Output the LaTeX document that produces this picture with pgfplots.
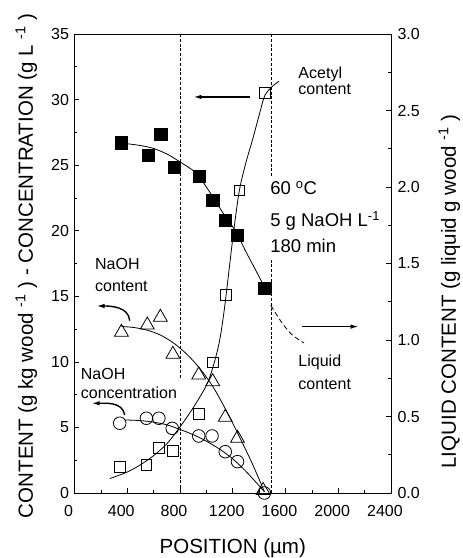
\documentclass[border=0pt]{standalone}
\usepackage{fontspec}
\setmainfont{Liberation Sans}
\usepackage{pgfplots}
\pgfplotsset{compat=1.18}
\usetikzlibrary{arrows.meta}

\tikzset{
  ann/.style={font=\fontsize{16}{19}\selectfont, inner sep=0pt, anchor=base west},
  cond/.style={font=\fontsize{18.5}{22}\selectfont, inner sep=0pt, anchor=base west},
  arr/.style={line width=1.4pt, -{Latex[length=8pt,width=4.5pt]}},
}

\begin{document}
\begin{tikzpicture}
\pgfplotsset{
  common/.style={
    scale only axis, width=316.5pt, height=459pt,
    xmin=0, xmax=2400,
    tick align=inside,
    major tick length=5pt, minor tick length=3pt,
    axis line style={line width=0.8pt},
    every tick/.style={black, line width=0.7pt},
    tick label style={font=\fontsize{16}{19}\selectfont},
    /pgf/number format/assume math mode=true,
    /pgf/number format/set thousands separator={},
    label style={font=\fontsize{20.5}{25}\selectfont},
  },
  fit/.style={black, line width=0.8pt, smooth, no marks},
  bound/.style={black, line width=0.9pt, dash pattern=on 3pt off 1.8pt},
}
% right axis: liquid content (filled squares)
\begin{axis}[common,
  ymin=0, ymax=3,
  axis x line=none, axis y line*=right,
  ytick={0,0.5,...,3}, minor y tick num=1,
  yticklabel style={xshift=3pt, /pgf/number format/.cd, fixed, fixed zerofill, precision=1},
  ylabel={LIQUID CONTENT (g liquid g wood \textsuperscript{-1} )},
  ylabel style={at={(axis description cs:1.184,0.439)}, anchor=center, rotate=0},
]
\addplot[only marks, mark=square*, mark size=6.1pt, mark options={fill=black, draw=black}]
coordinates {
(356,2.290) (557,2.210) (653,2.345) (758,2.129) (947,2.073)
(1048,1.916) (1143,1.785) (1236,1.683) (1443,1.338)
};
\addplot[fit] coordinates {
(406,2.282) (500,2.271) (595,2.253) (700,2.216) (796,2.166) (922,2.091)
(1023,1.970) (1136,1.817) (1224,1.708) (1300,1.577) (1400,1.414) (1443,1.338)
};
\addplot[black, line width=0.8pt, smooth, dash pattern=on 5pt off 3pt] coordinates {
(1488,1.226) (1576,1.109) (1651,1.033) (1740,0.981)
};
\end{axis}

% left axis: content and concentration
\begin{axis}[common,
  ymin=0, ymax=35,
  xtick={0,400,...,2400}, minor x tick num=1,
  ytick={0,5,...,35}, minor y tick num=1,
  xtick pos=bottom, ytick pos=left,
  xticklabel style={xshift=-6pt, yshift=-8.5pt},
  yticklabel style={xshift=-2pt},
  xlabel={POSITION (µm)},
  ylabel={CONTENT (g kg wood \textsuperscript{-1} ) - CONCENTRATION (g L \textsuperscript{-1} )},
  xlabel style={at={(axis description cs:0.5,-0.1194)}, anchor=center},
  ylabel style={at={(axis description cs:-0.152,0.495)}, anchor=center},
]
% boundaries
\addplot[bound] coordinates {(800,0) (800,35)};
\addplot[bound] coordinates {(1490,0) (1490,35)};
\fill[white] (1470,24.2) rectangle (1510,17.9);
\fill[white] (780,8.6) rectangle (820,6.4);

% acetyl content
\addplot[only marks, mark=square, mark size=5.3pt, mark options={draw=black, line width=0.8pt, fill=white}]
coordinates {
(343,2.0) (545,2.14) (640,3.46) (746,3.2) (942,6.03) (1048,9.97)
(1149,15.1) (1249,23.06) (1443,30.49)
};
\addplot[fit] coordinates {
(268,1.1) (400,1.6) (500,2.15) (600,2.85) (700,3.75) (796,4.98) (900,6.5)
(1000,8.2) (1050,9.6) (1100,11.6) (1140,14.3) (1199,19.3) (1249,23.0)
(1300,25.2) (1349,26.9) (1400,28.8) (1443,30.3) (1500,31.0) (1551,31.4)
};

% NaOH content
\addplot[only marks, mark=triangle, mark size=8pt, mark options={draw=black, line width=0.8pt, fill=white}]
coordinates {
(356,12.26) (552,12.81) (651,13.4) (746,10.58) (942,9.0) (1048,8.49)
(1143,5.77) (1236,4.17) (1430,0.2)
};
\addplot[fit] coordinates {
(356,12.7) (450,12.62) (550,12.42) (650,12.05) (750,11.45) (850,10.6)
(950,9.5) (1050,8.1) (1150,6.3) (1250,4.3) (1350,2.2) (1440,0.1)
};

% NaOH concentration
\addplot[only marks, mark=o, mark size=6.3pt, mark options={draw=black, line width=0.8pt}]
coordinates {
(343,5.32) (545,5.7) (640,5.7) (741,4.93) (942,4.35) (1043,4.35)
(1143,3.15) (1236,2.39) (1440,0.0)
};
\addplot[fit] coordinates {
(381,5.57) (500,5.52) (600,5.4) (700,5.2) (796,4.86) (900,4.45)
(1000,3.95) (1100,3.35) (1200,2.6) (1300,1.65) (1400,0.55) (1440,0.1)
};

% annotations
\node[ann] at (1697,31.63) {Acetyl};
\node[ann] at (1697,30.36) {content};
\draw[arr] (1332,30.2) -- (902,30.2);
\node[cond] at (1483,22.73) {60 \textsuperscript{o}C};
\node[cond] at (1483,20.29) {5 g NaOH L\textsuperscript{-1}};
\node[cond] at (1483,18.31) {180 min};
\node[ann] at (155,17.01) {NaOH};
\node[ann] at (155,15.35) {content};
\draw[arr] (419,13.14) to[out=95,in=0] (167,14.26);
\node[ann] at (47,8.62) {NaOH};
\node[ann] at (47,7.22) {concentration};
\draw[arr] (381,5.95) to[out=100,in=0] (130,6.84);
\node[ann] at (1697,9.63) {Liquid};
\node[ann] at (1697,7.86) {content};
\draw[arr] (1727,12.69) -- (2155,12.69);
\end{axis}
\pgfresetboundingbox
\path[use as bounding box] (-74.5pt,-65pt) rectangle (388.5pt,493pt);
\end{tikzpicture}
\end{document}
